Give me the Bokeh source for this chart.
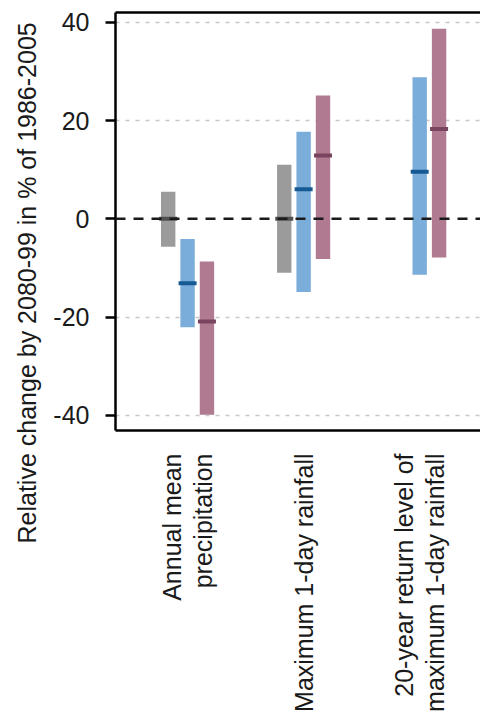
import math
from bokeh.plotting import figure
from bokeh.models import Range1d, FixedTicker, LinearAxis, Span, Grid, ColumnDataSource, Title
from bokeh.embed import file_html
from bokeh.resources import INLINE

nan = float("nan")

# ---- data ----
categories = ["Annual mean\nprecipitation",
              "Maximum 1-day rainfall",
              "20-year return level of\nmaximum 1-day rainfall"]
group_pos = [1, 2, 3]

gray_low = [-5.7, -11.0, nan]
gray_high = [5.5, 11.0, nan]
gray_med = [0.0, 0.0, nan]

blue_low = [-22.1, -14.9, -11.4]
blue_high = [-4.1, 17.7, 28.8]
blue_med = [-13.1, 6.0, 9.6]

pink_low = [-39.9, -8.2, -7.9]
pink_high = [-8.7, 25.1, 38.7]
pink_med = [-20.9, 12.9, 18.3]

y_ticks = [-40, -20, 0, 20, 40]
y_tick_labels = ["-40", "-20", "0", "20", "40"]
grid_ticks = [-40, -20, 20, 40]
y_label = "Relative change by 2080-99 in % of 1986-2005"

# ---- style ----
FONT = "Liberation Sans"
TXT = "#1a1a1a"
series = [
    (gray_low, gray_high, gray_med, -0.167, "#9b9b9b", "#505050"),
    (blue_low, blue_high, blue_med, 0.0, "#7badda", "#155a92"),
    (pink_low, pink_high, pink_med, 0.167, "#b07a91", "#78445e"),
]

p = figure(width=480, height=720,
           x_range=Range1d(0.379, 3.524), y_range=Range1d(-43.1, 42.0),
           output_backend="svg", toolbar_location=None,
           x_axis_type=None, y_axis_type=None,
           min_border_left=113, min_border_right=0,
           min_border_top=12, min_border_bottom=290)
p.outline_line_color = None
p.background_fill_color = "white"
p.border_fill_color = "white"

# grid
grid = Grid(dimension=1, ticker=FixedTicker(ticks=grid_ticks),
            grid_line_color="#c8c8c8", grid_line_width=1.5, grid_line_dash="4 6")
p.add_layout(grid)

# zero line
p.add_layout(Span(location=0, dimension="width", line_color=TXT,
                  line_width=2.5, line_dash="10 8"))

# bars + medians
for low, high, med, off, col, mcol in series:
    xs = [g + off for g in group_pos]
    src = ColumnDataSource(dict(x=xs, low=low, high=high, med=med))
    p.vbar(x="x", bottom="low", top="high", width=0.124, source=src,
           fill_color=col, line_color=None)
    p.rect(x="x", y="med", width=18, height=4, width_units="screen",
           height_units="screen", source=src, fill_color=mcol, line_color=None)

# left axis
left = LinearAxis(ticker=FixedTicker(ticks=y_ticks),
                  major_label_overrides=dict(zip(y_ticks, y_tick_labels)))
left.axis_line_width = 2.5
left.axis_line_color = "black"
left.major_tick_out = 10
left.major_tick_in = 0
left.major_tick_line_width = 2.5
left.major_tick_line_color = "black"
left.minor_tick_line_color = None
left.major_label_standoff = 16
left.major_label_text_font = FONT
left.major_label_text_font_size = "25px"
left.major_label_text_color = TXT
p.add_layout(left, "left")

# bottom axis with category labels
bottom = LinearAxis(ticker=FixedTicker(ticks=group_pos),
                    major_label_overrides=dict(zip(group_pos, categories)))
bottom.axis_line_width = 2.5
bottom.axis_line_color = "black"
bottom.major_tick_out = 0
bottom.major_tick_in = 0
bottom.major_tick_line_color = None
bottom.minor_tick_line_color = None
bottom.major_label_orientation = math.pi / 2
bottom.major_label_standoff = 23
bottom.major_label_text_font = FONT
bottom.major_label_text_font_size = "25px"
bottom.major_label_text_color = TXT
bottom.major_label_text_line_height = 1.1
p.add_layout(bottom, "below")

# top frame line
top = LinearAxis(ticker=FixedTicker(ticks=[]))
top.axis_line_width = 2.5
top.axis_line_color = "black"
top.major_tick_out = 0
top.major_tick_in = 0
top.minor_tick_out = 0
top.minor_tick_in = 0
top.major_label_standoff = 0
p.add_layout(top, "above")

# y axis title
p.add_layout(Title(text=y_label, align="left", offset=-113,
                   vertical_align="bottom", standoff=20,
                   text_font=FONT, text_font_size="25px",
                   text_font_style="normal", text_color=TXT), "left")

open("out.html", "w").write(file_html(p, INLINE))
